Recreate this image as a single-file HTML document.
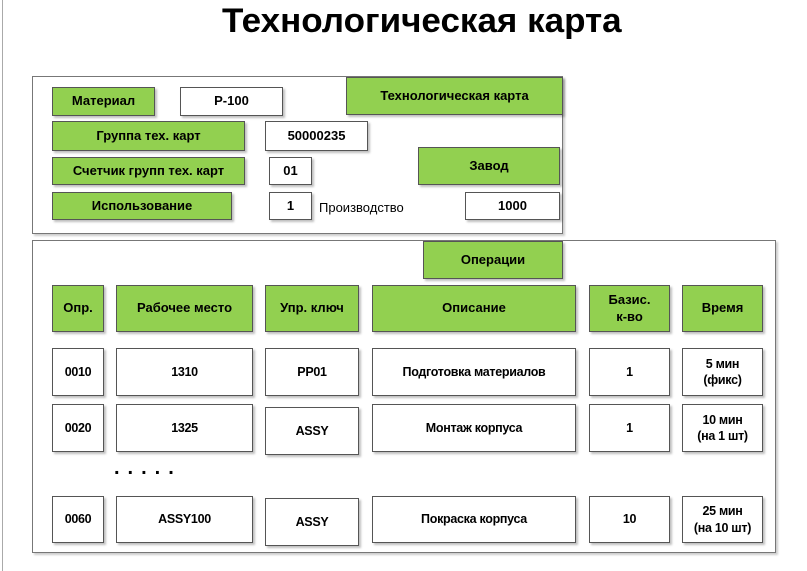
<!DOCTYPE html>
<html><head><meta charset="utf-8"><style>
body{margin:0;width:807px;height:571px;background:#fff;position:relative;overflow:hidden;font-family:"Liberation Sans",sans-serif}
.b{position:absolute;box-sizing:border-box;border:1px solid #555;display:flex;align-items:center;justify-content:center;text-align:center;font-weight:bold;font-size:13px;color:#000;box-shadow:2px 2px 2px rgba(0,0,0,.25);line-height:1.3}
.g{background:#92d050}
.w{background:#fff}
.p{position:absolute;box-sizing:border-box;border:1px solid #777;background:#fff;box-shadow:2px 2px 2px rgba(0,0,0,.2)}
.n{font-size:12.5px;letter-spacing:-0.3px}
</style></head><body>
<div style="position:absolute;left:2px;top:0;width:1px;height:571px;background:#aaa"></div>
<div style="position:absolute;left:222px;top:2px;width:400px;height:40px;overflow:visible"><span style="display:inline-block;font-weight:bold;font-size:34px;white-space:nowrap;transform:scaleX(1.03);transform-origin:left top">Технологическая карта</span></div>

<div class="p" style="left:32px;top:76px;width:531px;height:158px"></div>
<div class="b g" style="left:52px;top:87px;width:103px;height:29px">Материал</div>
<div class="b w" style="left:180px;top:87px;width:103px;height:29px">P-100</div>
<div class="b g" style="left:346px;top:77px;width:217px;height:38px">Технологическая карта</div>
<div class="b g" style="left:52px;top:121px;width:193px;height:30px">Группа тех. карт</div>
<div class="b w" style="left:265px;top:121px;width:103px;height:30px">50000235</div>
<div class="b g" style="left:52px;top:157px;width:193px;height:28px">Счетчик групп тех. карт</div>
<div class="b w" style="left:269px;top:157px;width:43px;height:28px">01</div>
<div class="b g" style="left:418px;top:147px;width:142px;height:38px">Завод</div>
<div class="b g" style="left:52px;top:192px;width:180px;height:28px">Использование</div>
<div class="b w" style="left:269px;top:192px;width:43px;height:28px">1</div>
<div style="position:absolute;left:319px;top:200px;font-size:13px">Производство</div>
<div class="b w" style="left:465px;top:192px;width:95px;height:28px">1000</div>

<div class="p" style="left:32px;top:240px;width:744px;height:313px"></div>
<div class="b g" style="left:423px;top:241px;width:140px;height:38px">Операции</div>

<div class="b g" style="left:52px;top:285px;width:52px;height:47px">Опр.</div>
<div class="b g" style="left:116px;top:285px;width:137px;height:47px">Рабочее место</div>
<div class="b g" style="left:265px;top:285px;width:94px;height:47px">Упр. ключ</div>
<div class="b g" style="left:372px;top:285px;width:204px;height:47px">Описание</div>
<div class="b g" style="left:589px;top:285px;width:81px;height:47px">Базис.<br>к-во</div>
<div class="b g" style="left:682px;top:285px;width:81px;height:47px">Время</div>

<div class="b w n" style="left:52px;top:348px;width:52px;height:48px">0010</div>
<div class="b w n" style="left:116px;top:348px;width:137px;height:48px">1310</div>
<div class="b w n" style="left:265px;top:348px;width:94px;height:48px">PP01</div>
<div class="b w n" style="left:372px;top:348px;width:204px;height:48px">Подготовка материалов</div>
<div class="b w n" style="left:589px;top:348px;width:81px;height:48px">1</div>
<div class="b w n" style="left:682px;top:348px;width:81px;height:48px">5 мин<br>(фикс)</div>

<div class="b w n" style="left:52px;top:404px;width:52px;height:48px">0020</div>
<div class="b w n" style="left:116px;top:404px;width:137px;height:48px">1325</div>
<div class="b w n" style="left:265px;top:407px;width:94px;height:48px">ASSY</div>
<div class="b w n" style="left:372px;top:404px;width:204px;height:48px">Монтаж корпуса</div>
<div class="b w n" style="left:589px;top:404px;width:81px;height:48px">1</div>
<div class="b w n" style="left:682px;top:404px;width:81px;height:48px">10 мин<br>(на 1 шт)</div>

<div style="position:absolute;left:114px;top:457px;font-weight:bold;font-size:20px;letter-spacing:8px">.....</div>

<div class="b w n" style="left:52px;top:496px;width:52px;height:47px">0060</div>
<div class="b w n" style="left:116px;top:496px;width:137px;height:47px">ASSY100</div>
<div class="b w n" style="left:265px;top:498px;width:94px;height:48px">ASSY</div>
<div class="b w n" style="left:372px;top:496px;width:204px;height:47px">Покраска корпуса</div>
<div class="b w n" style="left:589px;top:496px;width:81px;height:47px">10</div>
<div class="b w n" style="left:682px;top:496px;width:81px;height:47px">25 мин<br>(на 10 шт)</div>
</body></html>
